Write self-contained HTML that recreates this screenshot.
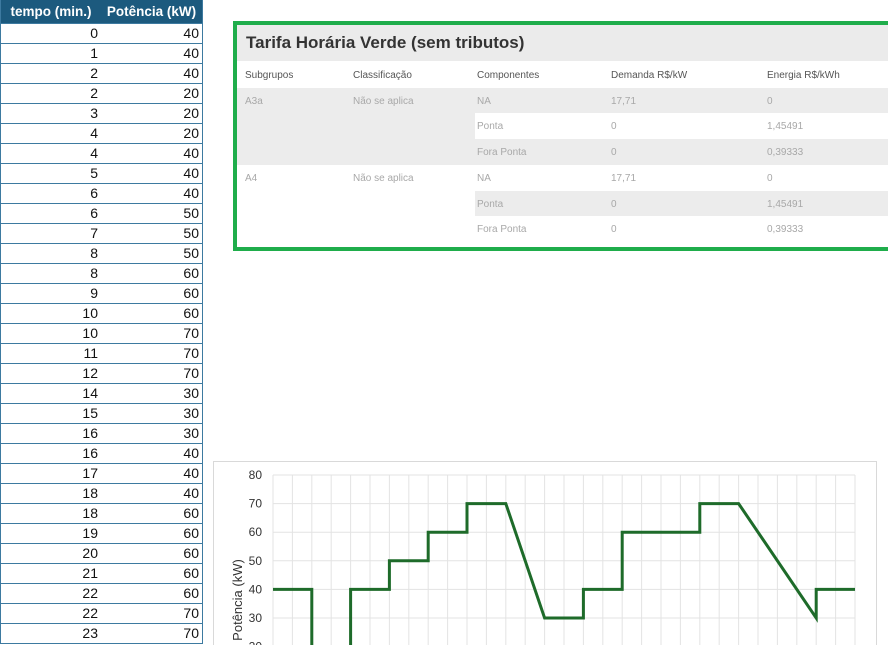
<!DOCTYPE html>
<html><head><meta charset="utf-8"><style>
body{margin:0;width:888px;height:645px;overflow:hidden;background:#fff;font-family:"Liberation Sans",sans-serif;position:relative}
#tbl{position:absolute;left:0;top:0;width:203px;border-collapse:collapse;font-size:14px;border-left:1px solid #3d7aa0;border-right:1px solid #3d7aa0}
#tbl th{background:#1c5a7e;color:#fff;height:23px;padding:0 3px;font-size:13.5px;text-align:center;font-weight:bold}
#tbl td{height:19px;border-top:1px solid #3d7aa0;border-bottom:1px solid #3d7aa0;text-align:right;padding:0 3px;color:#111;line-height:19px}
#tbl td:first-child{width:94px}
#box{position:absolute;left:233px;top:21px;width:660px;height:222px;border:4px solid #1fad4b;border-right:none;box-sizing:content-box;background:#fff}
#ttl{height:36px;background:#ebebeb;font-size:17px;font-weight:bold;color:#333;line-height:36px;padding-left:9px}
.r{position:absolute;left:0;width:660px;height:25.7px;font-size:10px;color:#a8a8a8}
.r span{position:absolute;top:8px}
</style></head><body>
<table id="tbl">
<thead><tr><th>tempo (min.)</th><th>Potência (kW)</th></tr></thead>
<tbody id="tb"></tbody></table>

<div id="box">
<div id="ttl">Tarifa Horária Verde (sem tributos)</div>
<div id="rows"></div>
</div>

<svg id="chart" style="position:absolute;left:0;top:0" width="888" height="645"></svg>

<script>
const times=[0,1,2,2,3,4,4,5,6,6,7,8,8,9,10,10,11,12,14,15,16,16,17,18,18,19,20,21,22,22,23];
const powers=[40,40,40,20,20,20,40,40,40,50,50,50,60,60,60,70,70,70,30,30,30,40,40,40,60,60,60,60,60,70,70];
const chartX=[0,1,2,2,3,4,4,5,6,6,7,8,8,9,10,10,11,12,14,15,16,16,17,18,18,19,20,21,22,22,23,24,28,28,29,30];
const chartY=[40,40,40,20,20,20,40,40,40,50,50,50,60,60,60,70,70,70,30,30,30,40,40,40,60,60,60,60,60,70,70,70,30,40,40,40];
const yTicks=[20,30,40,50,60,70,80];

const tb=document.getElementById('tb');
times.forEach((t,i)=>{const tr=document.createElement('tr');


tr.innerHTML='<td>'+t+'</td><td>'+powers[i]+'</td>';tb.appendChild(tr);});

const rowsData=[["Subgrupos","Classificação","Componentes","Demanda R$/kW","Energia R$/kWh"],
["A3a","Não se aplica","NA","17,71","0"],["","","Ponta","0","1,45491"],["","","Fora Ponta","0","0,39333"],
["A4","Não se aplica","NA","17,71","0"],["","","Ponta","0","1,45491"],["","","Fora Ponta","0","0,39333"]];
const colX=[8,116,240,374,530];
const rd=document.getElementById('rows');
rowsData.forEach((r,i)=>{const d=document.createElement('div');
d.className='r';d.style.top=(37+i*25.7)+'px';


let bg='';
if(i==1)bg='background:#ececec';
if(i==2)bg='background:linear-gradient(90deg,#ececec 238px,#fff 238px)';
if(i==3)bg='background:#ececec';
if(i==5)bg='background:linear-gradient(90deg,#fff 238px,#ececec 238px)';
d.style.cssText+=bg;
if(i==0)d.style.color='#555';
r.forEach((c,j)=>{const s=document.createElement('span');s.style.left=colX[j]+'px';s.textContent=c;d.appendChild(s);});
rd.appendChild(d);});

const svg=document.getElementById('chart');const NS='http://www.w3.org/2000/svg';
const L=273,R=855,Y80=475,per10=28.6;
const xs=v=>L+(R-L)*v/30, ys=v=>Y80+(80-v)*per10/10;
function el(t,a){const e=document.createElementNS(NS,t);for(const k in a)e.setAttribute(k,a[k]);svg.appendChild(e);return e;}
const frame=el('rect',{x:213.5,y:461.5,width:663,height:200,fill:'#fff',stroke:'#d9d9d9'});


for(let i=0;i<=30;i++){const g=el('line',{x1:xs(i),x2:xs(i),y1:ys(80),y2:645,stroke:'#e3e3e3'});

}
yTicks.forEach(v=>{const g=el('line',{x1:L,x2:R,y1:ys(v),y2:ys(v),stroke:'#e3e3e3'});


const t=el('text',{x:262,y:ys(v)+4,'text-anchor':'end','font-size':'12',fill:'#333','font-family':'Liberation Sans'});t.textContent=v;

});
const at=el('text',{x:0,y:0,transform:'translate(242,600) rotate(-90)','text-anchor':'middle','font-size':'13',fill:'#333','font-family':'Liberation Sans'});at.textContent='Potência (kW)';


const pts=chartX.map((x,i)=>xs(x)+','+ys(chartY[i])).join(' ');
const pl=el('polyline',{points:pts,fill:'none',stroke:'#1e6b2a','stroke-width':3});


</script>
</body></html>
